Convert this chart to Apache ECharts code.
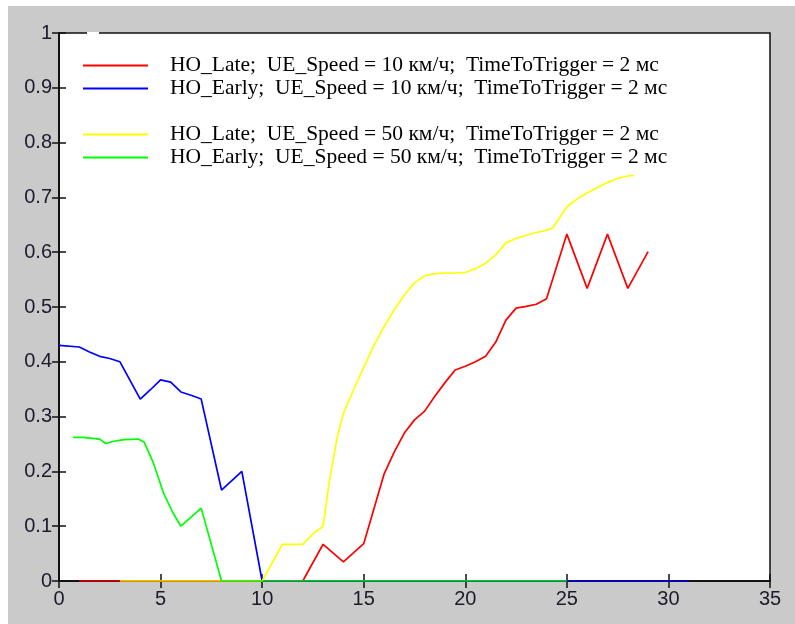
<!DOCTYPE html>
<html>
<head>
<meta charset="utf-8">
<script src="https://cdn.jsdelivr.net/npm/echarts@6/dist/echarts.min.js"></script>
<style>
html,body{margin:0;padding:0;background:#ffffff;width:795px;height:624px;overflow:hidden;}
#chart{position:absolute;left:8px;top:6px;width:787px;height:618px;}
</style>
</head>
<body>
<div id="chart"></div>
<script>
// ---- data ----
const lateSlowX = [1, 12, 13, 14, 15, 16, 16.5, 17, 17.5, 18, 18.5, 19, 19.5, 20, 20.5, 21, 21.5, 22, 22.5, 23, 23.5, 24, 25, 26, 27, 28, 29];
const lateSlowY = [0, 0, 0.067, 0.035, 0.068, 0.195, 0.235, 0.27, 0.294, 0.31, 0.337, 0.362, 0.385, 0.392, 0.4, 0.41, 0.436, 0.476, 0.498, 0.501, 0.505, 0.515, 0.633, 0.534, 0.633, 0.534, 0.601];

const earlySlowX = [0, 1, 1.5, 2, 2.5, 3, 4, 4.5, 5, 5.5, 6, 6.5, 7, 8, 9, 10, 31];
const earlySlowY = [0.43, 0.427, 0.418, 0.41, 0.406, 0.4, 0.332, 0.349, 0.367, 0.363, 0.345, 0.339, 0.332, 0.166, 0.2, 0, 0];

const lateFastX = [3, 10, 11, 12, 12.5, 13, 13.3, 13.7, 14, 14.5, 15, 15.5, 16, 16.5, 17, 17.5, 18, 18.5, 19, 19.5, 20, 20.5, 21, 21.5, 22, 22.5, 23, 23.5, 24, 24.3, 25, 25.5, 26, 26.5, 27, 27.5, 28, 28.3];
const lateFastY = [0, 0, 0.067, 0.067, 0.086, 0.1, 0.18, 0.263, 0.306, 0.349, 0.39, 0.43, 0.464, 0.495, 0.522, 0.544, 0.557, 0.561, 0.562, 0.562, 0.563, 0.57, 0.58, 0.595, 0.617, 0.625, 0.631, 0.636, 0.64, 0.644, 0.683, 0.697, 0.708, 0.718, 0.727, 0.735, 0.739, 0.74];

const earlyFastX = [0.7, 1.2, 2, 2.3, 2.7, 3.2, 3.9, 4.2, 4.65, 5.15, 5.6, 6, 7, 8, 25];
const earlyFastY = [0.262, 0.262, 0.259, 0.251, 0.255, 0.258, 0.259, 0.253, 0.215, 0.16, 0.125, 0.1, 0.133, 0, 0];

const seriesNames = [
  'HO_Late;  UE_Speed = 10 км/ч;  TimeToTrigger = 2 мс',
  'HO_Early;  UE_Speed = 10 км/ч;  TimeToTrigger = 2 мс',
  'HO_Late;  UE_Speed = 50 км/ч;  TimeToTrigger = 2 мс',
  'HO_Early;  UE_Speed = 50 км/ч;  TimeToTrigger = 2 мс'
];
const seriesColors = ['#ff0000', '#0000ff', '#ffff00', '#00ff00'];

function pairs(xs, ys) { return xs.map((x, i) => [x, ys[i]]); }
const allData = [pairs(lateSlowX, lateSlowY), pairs(earlySlowX, earlySlowY), pairs(lateFastX, lateFastY), pairs(earlyFastX, earlyFastY)];

const chart = echarts.init(document.getElementById('chart'), null, {renderer: 'canvas'});
const labelFont = {fontFamily: 'Liberation Sans', fontSize: 20, color: '#1b1b2b'};
const frameLine = {show: true, lineStyle: {color: '#111', width: 1.5}};
const tick = {show: true, inside: true, length: 7, lineStyle: {color: '#111', width: 1.5}};

const legendCommon = {
  orient: 'vertical', left: 70, itemWidth: 65, itemHeight: 2, itemGap: 1,
  icon: 'rect', selectedMode: false,
  formatter: function (n) { return '{t|' + n + '}'; },
  textStyle: {fontFamily: 'Liberation Serif', fontSize: 21.5, color: '#000',
    rich: {t: {fontFamily: 'Liberation Serif', fontSize: 21.5, lineHeight: 20, color: '#000', padding: [0, 0, 0, 17]}}}
};

chart.setOption({
  backgroundColor: '#cacaca',
  animation: false,
  grid: {left: 51, top: 27, width: 711, height: 548, show: true, backgroundColor: '#ffffff', borderColor: '#111', borderWidth: 1.5},
  legend: [
    Object.assign({}, legendCommon, {top: 43.5, data: [seriesNames[0], seriesNames[1]]}),
    Object.assign({}, legendCommon, {top: 112.5, data: [seriesNames[2], seriesNames[3]]})
  ],
  xAxis: [
    {type: 'value', min: 0, max: 35, interval: 5, position: 'bottom', axisLine: frameLine, axisTick: tick,
     splitLine: {show: false}, axisLabel: Object.assign({margin: 8}, labelFont)},
    {type: 'value', min: 0, max: 35, interval: 5, position: 'top', axisLine: frameLine, axisTick: tick,
     splitLine: {show: false}, axisLabel: {show: false}}
  ],
  yAxis: [
    {type: 'value', min: 0, max: 1, interval: 0.1, position: 'left', axisLine: frameLine, axisTick: tick,
     splitLine: {show: false}, axisLabel: Object.assign({margin: 7}, labelFont)},
    {type: 'value', min: 0, max: 1, interval: 0.1, position: 'right', axisLine: frameLine, axisTick: tick,
     splitLine: {show: false}, axisLabel: {show: false}}
  ],
  series: allData.map((d, i) => ({
    name: seriesNames[i], type: 'line', data: d, xAxisIndex: 0, yAxisIndex: 0,
    symbol: 'none', showSymbol: false, clip: true,
    itemStyle: {color: seriesColors[i]},
    lineStyle: {color: seriesColors[i], width: 1.7}
  })),
  graphic: [{type: 'rect', left: 79, top: 26, shape: {width: 12, height: 2}, style: {fill: '#ffffff'}, z: 100}]
});
</script>
</body>
</html>
